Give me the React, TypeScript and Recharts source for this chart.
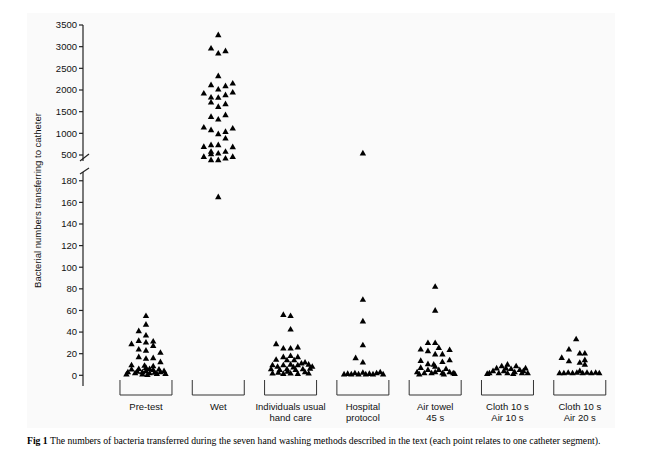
import React from 'react';
import { ScatterChart, Scatter, XAxis, YAxis } from 'recharts';

// Category labels (each entry = lines of the label)
const categories: string[][] = [
  ['Pre-test'],
  ['Wet'],
  ['Individuals usual', 'hand care'],
  ['Hospital', 'protocol'],
  ['Air towel', '45 s'],
  ['Cloth 10 s', 'Air 10 s'],
  ['Cloth 10 s', 'Air 20 s'],
];

const upperTicks = [500, 1000, 1500, 2000, 2500, 3000, 3500];
const lowerTicks = [0, 20, 40, 60, 80, 100, 120, 140, 160, 180];

// Each point: [horizontal jitter within the category, bacterial count]
const preTest: [number, number][] = [
  [0, 55], [0, 47], [-0.1, 41], [0, 37], [-0.2, 29], [-0.1, 32], [0, 30.5], [0.1, 31.4], [0.1, 27.4],
  [0.2, 21], [-0.1, 24], [0, 23], [-0.1, 17], [0, 15.5], [0.1, 16], [0.2, 12.3], [-0.2, 9.5], [0.1, 8.5],
  [-0.25, 3], [-0.2, 5.5], [-0.15, 2], [-0.1, 6], [-0.05, 1], [0, 4], [0, 7], [0.05, 2], [0.1, 5],
  [0.15, 1.5], [0.2, 3], [0.25, 4], [-0.05, 3], [0.05, 6], [-0.27, 1], [-0.12, 3.5], [0.02, 0.5],
  [0.12, 2.5], [0.18, 5.5], [0.27, 1.5], [-0.02, 9],
];

const wet: [number, number][] = [
  [0, 3270], [-0.1, 2962], [0, 2847], [0.1, 2900], [0, 2323], [-0.1, 2116], [0, 2016], [0.1, 2092],
  [0.2, 2154], [-0.2, 1924], [0.2, 1947], [-0.1, 1831], [0, 1823], [0.1, 1885], [-0.1, 1716], [0, 1615],
  [0.1, 1677], [-0.1, 1384], [0, 1324], [0.1, 1423], [-0.2, 1139], [-0.1, 1077], [0, 985], [0.1, 1038],
  [0.2, 1116], [0.1, 885], [-0.2, 692], [-0.1, 731], [0, 731], [0.2, 685], [-0.1, 577], [-0.1, 523],
  [0, 538], [0.1, 577], [-0.2, 461], [-0.1, 385], [0, 385], [0.1, 423], [0.2, 461], [0, 165],
];

const individuals: [number, number][] = [
  [-0.1, 56], [0, 55], [0, 42.5], [-0.2, 29], [-0.1, 25], [0, 25], [0.1, 26],
  [-0.1, 17], [0, 18], [0.1, 17], [-0.2, 14.5], [-0.05, 14], [0.05, 14], [0.2, 12],
  [-0.25, 9.5], [-0.1, 9.5], [0, 10], [0.1, 9.5], [0.25, 10],
  [-0.27, 5.8], [-0.15, 5], [-0.05, 5.8], [0.07, 5], [0.17, 5.8], [0.27, 6.3],
  [-0.25, 1.8], [-0.1, 1.5], [0, 1.8], [0.1, 1.5], [0.25, 1.8], [-0.18, 8], [0.04, 7.5],
  [0.15, 11], [-0.04, 3.5], [0.2, 3], [-0.17, 2.5], [0.3, 8],
];

const hospital: [number, number][] = [
  [0, 540], [0, 70], [0, 50], [0, 28], [-0.1, 16], [0, 12],
  [-0.26, 1], [-0.21, 1.5], [-0.16, 1], [-0.11, 2], [-0.06, 1], [0, 2.5], [0.04, 1], [0.09, 1.5],
  [0.14, 1], [0.19, 2], [0.24, 3], [0.28, 1],
];

const airTowel: [number, number][] = [
  [0, 82], [0, 60], [-0.1, 30], [0, 30], [-0.2, 24], [-0.1, 22.5], [0.05, 25.5], [0.2, 23.5],
  [0, 19.5], [0.1, 19.5], [-0.2, 13.5], [-0.1, 10.5], [0.1, 12.5], [0.2, 14],
  [-0.25, 3], [-0.2, 7], [-0.15, 2], [-0.1, 5], [-0.05, 2], [0, 8], [0, 3], [0.05, 5], [0.1, 2],
  [0.15, 6], [0.2, 3], [0.25, 2], [-0.22, 1], [-0.02, 10], [0.12, 1], [0.27, 1.5],
];

const cloth10Air10: [number, number][] = [
  [-0.25, 2], [-0.2, 4], [-0.15, 6.5], [-0.12, 2], [-0.08, 8.5], [-0.05, 4], [0, 10], [0, 2],
  [0.05, 6], [0.1, 3], [0.12, 8.5], [0.17, 5], [0.2, 2], [0.25, 6.5], [0.28, 2], [-0.28, 1.5],
  [-0.02, 6.5], [0.08, 1.5], [0.22, 4],
];

const cloth10Air20: [number, number][] = [
  [-0.05, 33.5], [-0.15, 24], [0, 20.3], [0.07, 20.3], [-0.25, 16.3], [-0.15, 13.2], [0, 11.7],
  [0.07, 14.2], [0.07, 10],
  [-0.28, 2], [-0.22, 2], [-0.16, 2.5], [-0.1, 2], [-0.04, 2.5], [0, 4], [0.04, 2], [0.1, 2.5],
  [0.16, 2], [0.22, 2.5], [0.27, 2],
];

const groups = [preTest, wet, individuals, hospital, airTowel, cloth10Air10, cloth10Air20];

const points = groups.flatMap((g, i) => g.map(([off, v]) => ({ x: i + off, y: v })));
const upperPoints = points.filter((p) => p.y >= 300);
const lowerPoints = points.filter((p) => p.y < 300);

const xDomain: [number, number] = [-0.871, 6.584];
const categoryTicks = categories.map((_, i) => i);

const AXIS = '#222';
const SANS = '"Liberation Sans", Arial, Helvetica, sans-serif';

const Triangle = (props: any) => {
  const { cx, cy } = props;
  if (cx == null || cy == null) return null;
  return (
    <path
      d={`M${cx},${cy - 3.4}L${cx + 3.2},${cy + 2.2}L${cx - 3.2},${cy + 2.2}Z`}
      fill="#000"
    />
  );
};

const CategoryTick = (props: any) => {
  const { x, y, payload } = props;
  const lines = categories[Math.round(payload.value)] || [];
  return (
    <g>
      <path
        d={`M${x - 26},${y - 6}V${y + 9}H${x + 26}V${y - 6}`}
        stroke="#333"
        strokeWidth={1}
        fill="none"
      />
      {lines.map((l, k) => (
        <text
          key={k}
          x={x}
          y={y + 24 + k * 11}
          textAnchor="middle"
          fontSize={9.5}
          fontFamily={SANS}
          fill="#111"
        >
          {l}
        </text>
      ))}
    </g>
  );
};

export default function App() {
  const yTick = { fontSize: 9.5, fill: '#111', fontFamily: SANS };
  return (
    <div style={{ position: 'absolute', left: 0, top: 0, width: 660, height: 458, background: '#fff' }}>
      <svg width={660} height={458} style={{ position: 'absolute', left: 0, top: 0 }}>
        <rect x={27} y={13} width={588} height={415} fill="#fafafa" />
      </svg>
      <div style={{ position: 'absolute', left: 0, top: 0 }}>
        <ScatterChart width={660} height={458} margin={{ top: 172, right: 38, bottom: 32, left: 43 }}>
          <XAxis
            type="number"
            dataKey="x"
            domain={xDomain}
            ticks={categoryTicks}
            interval={0}
            tick={<CategoryTick />}
            axisLine={false}
            tickLine={false}
            tickSize={0}
            tickMargin={0}
            height={40}
          />
          <YAxis
            type="number"
            dataKey="y"
            domain={[-9.9, 188.1]}
            ticks={lowerTicks}
            interval={0}
            width={40}
            tick={yTick}
            tickSize={4}
            tickMargin={2}
            axisLine={{ stroke: AXIS, strokeWidth: 1.2 }}
            tickLine={{ stroke: AXIS, strokeWidth: 1.2 }}
          />
          <Scatter data={lowerPoints} shape={<Triangle />} fill="#000" isAnimationActive={false} />
        </ScatterChart>
      </div>
      <div style={{ position: 'absolute', left: 0, top: 0 }}>
        <ScatterChart width={660} height={170} margin={{ top: 25, right: 38, bottom: 9, left: 43 }}>
          <XAxis type="number" dataKey="x" domain={xDomain} hide />
          <YAxis
            type="number"
            dataKey="y"
            domain={[361.5, 3500]}
            ticks={upperTicks}
            interval={0}
            width={40}
            tick={yTick}
            tickSize={4}
            tickMargin={2}
            axisLine={{ stroke: AXIS, strokeWidth: 1.2 }}
            tickLine={{ stroke: AXIS, strokeWidth: 1.2 }}
          />
          <Scatter data={upperPoints} shape={<Triangle />} fill="#000" isAnimationActive={false} />
        </ScatterChart>
      </div>
      <svg
        width={660}
        height={458}
        style={{ position: 'absolute', left: 0, top: 0, pointerEvents: 'none' }}
      >
        <line x1={80} y1={161} x2={89} y2={154} stroke={AXIS} strokeWidth={1.2} />
        <line x1={80} y1={174} x2={89} y2={168} stroke={AXIS} strokeWidth={1.2} />
        <text
          transform="rotate(-90)"
          x={-200.5}
          y={41}
          textAnchor="middle"
          fontSize={9.5}
          fontFamily={SANS}
          fill="#111"
        >
          Bacterial numbers transferring to catheter
        </text>
        <text x={27} y={444} fontSize={9.7} fontFamily='"Liberation Serif", "Times New Roman", serif' fill="#000">
          <tspan fontWeight="bold">Fig 1</tspan> The numbers of bacteria transferred during the seven hand washing methods described in the text (each point relates to one catheter segment).
        </text>
      </svg>
    </div>
  );
}
